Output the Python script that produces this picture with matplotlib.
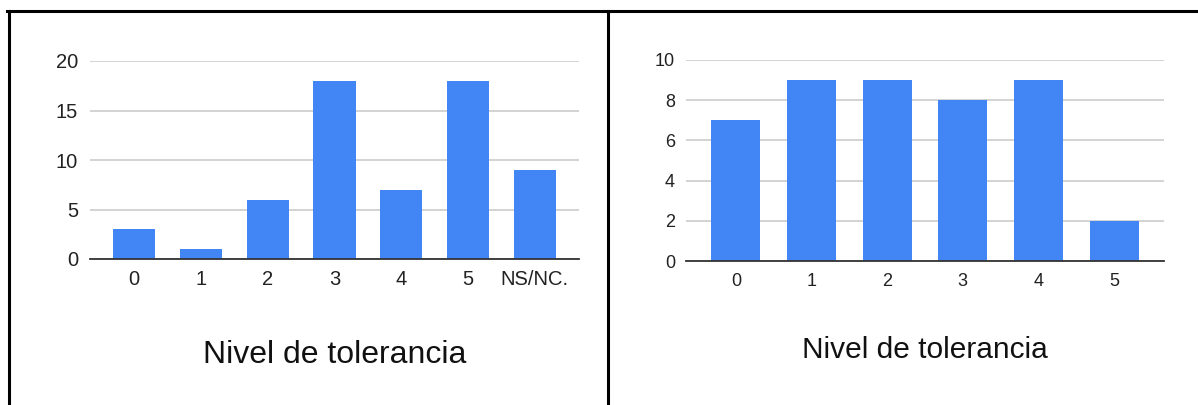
import matplotlib.pyplot as plt
from matplotlib.lines import Line2D

plt.rcParams['font.family'] = ['Liberation Sans', 'DejaVu Sans']

# Data
left_levels = ['0', '1', '2', '3', '4', '5', 'NS/NC.']
left_counts = [3, 1, 6, 18, 7, 18, 9]
left_yticks = [0, 5, 10, 15, 20]

right_levels = ['0', '1', '2', '3', '4', '5']
right_counts = [7, 9, 9, 8, 9, 2]
right_yticks = [0, 2, 4, 6, 8, 10]

xlabel = 'Nivel de tolerancia'
BAR_COLOR = '#4285F4'

W, H = 1198, 405
fig = plt.figure(figsize=(W / 100, H / 100), dpi=100)


def px_axes(x0, x1, y_top, y_bottom):
    return fig.add_axes([x0 / W, 1 - y_bottom / H, (x1 - x0) / W, (y_bottom - y_top) / H])


def draw_bars(ax, levels, counts, yticks, width, tick_size, ypad, xpad):
    x = range(len(levels))
    ax.bar(x, counts, width=width, color=BAR_COLOR, zorder=3)
    ax.set_xlim(-0.66, len(levels) - 0.34)
    ax.set_ylim(0, yticks[-1])
    ax.set_yticks(yticks)
    ax.set_xticks(list(x))
    ax.set_xticklabels(levels)
    ax.tick_params(axis='both', length=0, labelsize=tick_size, colors='#222222')
    ax.tick_params(axis='y', pad=ypad)
    ax.tick_params(axis='x', pad=xpad)
    ax.grid(axis='y', color='#cccccc', linewidth=1.2, zorder=0)
    for s in ['top', 'right', 'left']:
        ax.spines[s].set_visible(False)
    ax.spines['bottom'].set_color('#333333')
    ax.spines['bottom'].set_linewidth(1.3)
    ax.spines['bottom'].set_zorder(4)


# Left chart
ax1 = px_axes(90, 579, 61, 259)
draw_bars(ax1, left_levels, left_counts, left_yticks, 0.63, 14.5, 8.5, 8)
fig.text(335 / W, 1 - 355 / H, xlabel, ha='center', va='center', fontsize=23, color='#111111')

# Right chart
ax2 = px_axes(686, 1164, 60, 261)
draw_bars(ax2, right_levels, right_counts, right_yticks, 0.65, 13, 8, 9)
fig.text(925 / W, 1 - 350 / H, xlabel, ha='center', va='center', fontsize=21.5, color='#111111')

# Table borders
fig.add_artist(Line2D([7 / W, 1], [1 - 11 / H, 1 - 11 / H], color='black', linewidth=2.2))
fig.add_artist(Line2D([9 / W, 9 / W], [0, 1 - 11 / H], color='black', linewidth=2.2))
fig.add_artist(Line2D([608 / W, 608 / W], [0, 1 - 11 / H], color='black', linewidth=2.2))

fig.savefig('out.png', dpi=100)
